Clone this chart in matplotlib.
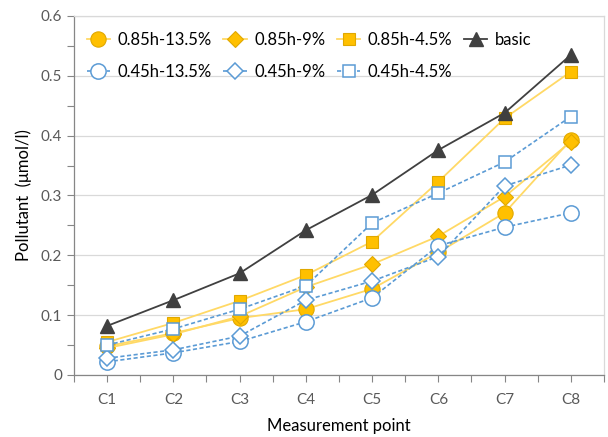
import matplotlib.pyplot as plt
import numpy as np

points = ["C1", "C2", "C3", "C4", "C5", "C6", "C7", "C8"]

h085_135 = [0.048, 0.070, 0.095, 0.110, 0.144, 0.205, 0.271, 0.393]
h085_90 = [0.045, 0.068, 0.098, 0.147, 0.185, 0.232, 0.298, 0.390]
h085_45 = [0.055, 0.087, 0.124, 0.167, 0.223, 0.323, 0.429, 0.507]
h045_135 = [0.022, 0.037, 0.056, 0.089, 0.129, 0.216, 0.247, 0.271]
h045_90 = [0.028, 0.042, 0.065, 0.125, 0.157, 0.198, 0.316, 0.351]
h045_45 = [0.050, 0.077, 0.110, 0.149, 0.254, 0.304, 0.356, 0.432]
basic = [0.082, 0.125, 0.170, 0.242, 0.301, 0.376, 0.438, 0.535]

YELLOW = "#FFC000"
YELLOW_EDGE = "#E0A800"
YELLOW_LINE = "#FFD966"
BLUE = "#5B9BD5"
DARK = "#404040"

plt.rcParams["font.family"] = ["Lato", "DejaVu Sans"]

fig = plt.figure(figsize=(6.08, 4.37), dpi=100)
ax = fig.add_axes([0.1217, 0.1419, 0.8717, 0.8215])

x = np.arange(1, len(points) + 1)

series = [
    (h085_135, "0.85h-13.5%", "o", 11, True),
    (h045_135, "0.45h-13.5%", "o", 11, False),
    (h085_90, "0.85h-9%", "D", 8, True),
    (h045_90, "0.45h-9%", "D", 8, False),
    (h085_45, "0.85h-4.5%", "s", 8, True),
    (h045_45, "0.45h-4.5%", "s", 8, False),
]

handles = {}
for values, label, marker, size, filled in series:
    if filled:
        (line,) = ax.plot(x, values, color=YELLOW_LINE, linewidth=1.3, marker=marker,
                          markersize=size, markerfacecolor=YELLOW,
                          markeredgecolor=YELLOW_EDGE, markeredgewidth=0.8,
                          label=label, zorder=3)
    else:
        (line,) = ax.plot(x, values, color=BLUE, linewidth=1.2, linestyle=(0, (2.5, 1.5)),
                          marker=marker, markersize=size, markerfacecolor="white",
                          markeredgecolor=BLUE, markeredgewidth=1.1,
                          label=label, zorder=4)
    handles[label] = line

(line,) = ax.plot(x, basic, color=DARK, linewidth=1.3, marker="^", markersize=10,
                  markerfacecolor=DARK, markeredgecolor=DARK, label="basic", zorder=5)
handles["basic"] = line

# column-major order gives the two-row layout: 0.85h on top, 0.45h below
order = ["0.85h-13.5%", "0.45h-13.5%", "0.85h-9%", "0.45h-9%",
         "0.85h-4.5%", "0.45h-4.5%", "basic"]
ax.legend([handles[k] for k in order], order, ncol=4, loc="upper left",
          bbox_to_anchor=(0.0, 0.992), frameon=False, fontsize=12,
          handlelength=1.4, handletextpad=0.45, columnspacing=0.7,
          labelspacing=1.0, borderaxespad=0.46, borderpad=0.3)

ax.set_xlim(0.5, 8.5)
ax.set_ylim(0, 0.6)
xticks = np.arange(0.5, 8.51, 0.5)
ax.set_xticks(xticks)
ax.set_xticklabels([points[int(t) - 1] if float(t).is_integer() else "" for t in xticks])
ax.set_yticks(np.arange(0, 0.61, 0.1))
ax.set_yticklabels(["0", "0.1", "0.2", "0.3", "0.4", "0.5", "0.6"])
ax.set_yticks(np.arange(0.05, 0.6, 0.1), minor=True)

ax.tick_params(axis="both", which="both", colors="#868686", labelcolor="#595959",
               labelsize=11, length=5, width=0.8, direction="out")
ax.tick_params(axis="x", pad=8)
ax.grid(axis="y", which="major", color="#D9D9D9", linewidth=0.9)
ax.set_axisbelow(True)

for side in ("top", "right"):
    ax.spines[side].set_color("#D9D9D9")
for side in ("left", "bottom"):
    ax.spines[side].set_color("#868686")
for spine in ax.spines.values():
    spine.set_linewidth(0.9)

ax.set_xlabel("Measurement point", fontsize=12, labelpad=8)
ax.set_ylabel("Pollutant  (\u03bcmol/l)", fontsize=12, labelpad=6)

fig.savefig("out.png", dpi=100)
